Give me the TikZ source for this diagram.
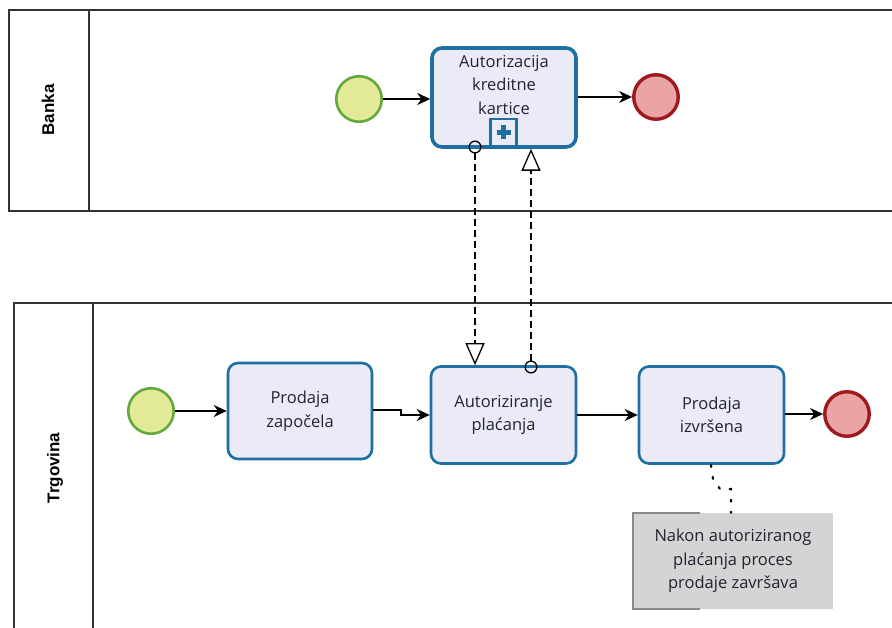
\documentclass[tikz,border=0pt]{standalone}
\usepackage{fontspec}
\setmainfont{Open Sans}
\newfontfamily\lanefont{Liberation Sans}
\usetikzlibrary{arrows.meta,calc}
\definecolor{taskfill}{HTML}{EAEBF6}
\definecolor{taskline}{HTML}{1F6FA3}
\definecolor{startfill}{HTML}{E2EA98}
\definecolor{startline}{HTML}{62A83C}
\definecolor{endfill}{HTML}{EBA4A6}
\definecolor{endline}{HTML}{A0191E}
\definecolor{poolline}{HTML}{333333}
\definecolor{annfill}{HTML}{D4D4D4}
\definecolor{annline}{HTML}{8A8A8A}
\definecolor{txt}{HTML}{222233}
\tikzset{
  pool/.style={draw=poolline, line width=1.4pt},
  lanelabel/.style={font=\lanefont\bfseries\fontsize{17}{20}\selectfont, rotate=90, text=black},
  startev/.style={circle, draw=startline, fill=startfill, line width=2.6pt, minimum size=45.5pt, inner sep=0pt},
  endev/.style={circle, draw=endline, fill=endfill, line width=3.4pt, minimum size=44.5pt, inner sep=0pt},
  tasktext/.style={align=center, text=txt, font=\fontsize{16.5}{23.5}\selectfont},
  task/.style={rectangle, rounded corners=10pt, draw=taskline, fill=taskfill, line width=2.6pt,
     minimum width=144pt, minimum height=96pt, tasktext},
  subproc/.style={task, line width=3.6pt, minimum height=99pt},
  seq/.style={-{Stealth[length=13pt,width=12pt]}, line width=1.5pt, black},
  msg/.style={{Circle[open,length=13pt,width=13pt]}-{Triangle[open,length=22pt,width=19pt]}, line width=1.3pt, dash pattern=on 7pt off 4pt, black},
  assoc/.style={line width=2.2pt, dash pattern=on 2pt off 10pt, black, line cap=round},
  ann/.style={rectangle, fill=annfill, minimum width=200pt, minimum height=96pt, tasktext, inner sep=0pt},
}
\begin{document}
\begin{tikzpicture}[x=1pt,y=-1pt]
\useasboundingbox (0,0) rectangle (892,628);
% pools
\draw[pool] (900,10) -- (9,10) -- (9,211) -- (900,211);
\draw[pool] (89,10) -- (89,211);
\draw[pool] (900,303) -- (14,303) -- (14,640);
\draw[pool] (93,303) -- (93,640);
\node[lanelabel] (lbank) at (48,110) {Banka};
\node[lanelabel] (ltrg) at (55,468) {Trgovina};
% Banka
\node[startev] (bstart) at (359,99) {};
\node[subproc] (sub) at (504,97.5) {};
\node[tasktext] (subtxt) at (504,85) {Autorizacija\\kreditne\\kartice};
\node[rectangle, draw=taskline, line width=2.2pt, fill=taskfill, minimum width=26pt, minimum height=27pt, inner sep=0pt] (mark) at (503.5,132.5) {};
\draw[taskline, line width=4.5pt] ($(mark.center)+(-7,0)$) -- ($(mark.center)+(7,0)$);
\draw[taskline, line width=4.5pt] ($(mark.center)+(0,-7)$) -- ($(mark.center)+(0,7)$);
\node[endev] (bend) at (656,97) {};
\draw[seq] (bstart.east) -- (sub.west |- bstart.east);
\draw[seq] (sub.east |- bend.west) -- (bend.west);
% Trgovina
\node[startev] (tstart) at (151,411) {};
\node[task] (t1) at (300,411) {Prodaja\\započela};
\node[task, minimum width=145pt, minimum height=97pt] (t2) at (503.5,415) {Autoriziranje\\plaćanja};
\node[task, minimum width=145pt, minimum height=97pt] (t3) at (711.5,415) {Prodaja\\izvršena};
\node[endev] (tend) at (847,414) {};
\draw[seq] (tstart.east) -- (t1.west);
\coordinate (stepx) at (401,410);
\draw[seq] (t1.east |- stepx) -- (stepx) |- (t2.west);
\draw[seq] (t2.east) -- (t3.west);
\draw[seq] (t3.east |- tend.west) -- (tend.west);
% message flows
\coordinate (m1s) at (475,147);
\coordinate (m2s) at (531,367);
\draw[msg, shorten <=-6.5pt] (m1s) -- (m1s |- t2.north);
\draw[msg, shorten <=-6.5pt] (m2s) -- (m2s |- sub.south);
% annotation
\node[ann] (annot) at (733,561) {Nakon autoriziranog\\plaćanja proces\\prodaje završava};
\draw[annline, line width=1.6pt] (700,513) -- (633,513) -- (633,609) -- (700,609);
\coordinate (ab1) at (713,479);
\coordinate (ab2) at (720,489);
\coordinate (ab3) at (731,489);
\draw[assoc] (711,465) -- (ab1) -- (ab2) -- (ab3) -- (ab3 |- annot.north);
\end{tikzpicture}
\end{document}
